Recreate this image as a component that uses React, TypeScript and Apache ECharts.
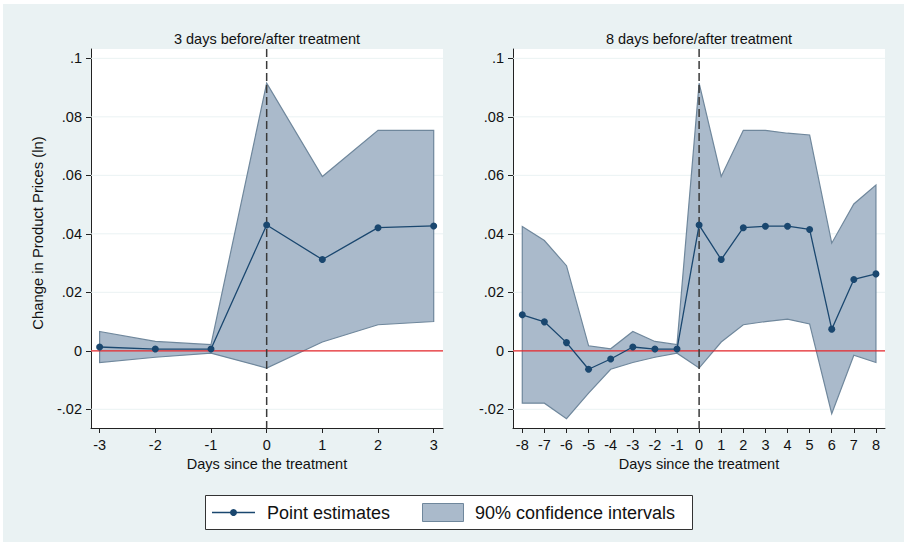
import React, { useEffect, useRef } from "react";
import * as echarts from "echarts";

// Event-study estimates: 3-day window
const days3 = [-3, -2, -1, 0, 1, 2, 3];
const est3 = [0.0013, 0.0006, 0.0006, 0.043, 0.0312, 0.0421, 0.0427];
const hi3 = [0.0066, 0.0032, 0.0021, 0.0915, 0.0596, 0.0754, 0.0754];
const lo3 = [-0.004, -0.0022, -0.0008, -0.0059, 0.003, 0.0089, 0.01];

// Event-study estimates: 8-day window
const days8 = [-8, -7, -6, -5, -4, -3, -2, -1, 0, 1, 2, 3, 4, 5, 6, 7, 8];
const est8 = [
  0.0123, 0.0099, 0.0028, -0.0063, -0.0028, 0.0013, 0.0006, 0.0006, 0.043,
  0.0312, 0.0421, 0.0426, 0.0426, 0.0415, 0.0074, 0.0244, 0.0263,
];
const hi8 = [
  0.0425, 0.0377, 0.0291, 0.0017, 0.0007, 0.0066, 0.0032, 0.0021, 0.0915,
  0.0596, 0.0754, 0.0754, 0.0744, 0.0738, 0.0368, 0.0502, 0.0567,
];
const lo8 = [
  -0.0179, -0.0179, -0.0232, -0.0145, -0.0063, -0.004, -0.0022, -0.0008,
  -0.0059, 0.003, 0.0089, 0.01, 0.0108, 0.0092, -0.0215, -0.0015, -0.004,
];

const yTicks = [-0.02, 0, 0.02, 0.04, 0.06, 0.08, 0.1];
const titles = ["3 days before/after treatment", "8 days before/after treatment"];
const xTitle = "Days since the treatment";
const yTitle = "Change in Product Prices (ln)";
const legendLabels = ["Point estimates", "90% confidence intervals"];

const FONT = '"Liberation Sans", Arial, Helvetica, sans-serif';
const NAVY = "#1a476f";
const BAND_FILL = "#aabacb";
const BAND_EDGE = "#6f879c";
const BG = "#eaf2f3";
const AXIS = "#222";
const TEXT = "#111";
const ZERO_RED = "#e8262b";
const EVENT_LINE = "#3a3a3a";

const fmtY = (v: number) => {
  const r = Number(v.toFixed(2));
  if (r === 0) return "0";
  return String(r).replace("0.", ".");
};

function xAxisFor(idx: number, xs: number[], min: number, max: number) {
  return {
    type: "value",
    gridIndex: idx,
    min,
    max,
    name: xTitle,
    nameLocation: "middle",
    nameGap: 27,
    nameTextStyle: { fontFamily: FONT, fontSize: 14.5, color: TEXT },
    axisLine: { show: true, onZero: false, lineStyle: { color: AXIS, width: 1 } },
    axisTick: { show: true, length: 5, customValues: xs, lineStyle: { color: AXIS, width: 1 } },
    axisLabel: { customValues: xs, fontFamily: FONT, fontSize: 14.5, color: TEXT, margin: 9 },
    splitLine: { show: false },
  };
}

function yAxisFor(idx: number) {
  return {
    type: "value",
    gridIndex: idx,
    min: -0.0264,
    max: 0.1032,
    axisLine: { show: true, onZero: false, lineStyle: { color: AXIS, width: 1 } },
    axisTick: { show: true, length: 5, customValues: yTicks, lineStyle: { color: AXIS, width: 1 } },
    axisLabel: {
      customValues: yTicks,
      formatter: (v: number) => fmtY(v),
      fontFamily: FONT,
      fontSize: 14.5,
      color: TEXT,
      margin: 9,
    },
    splitLine: { show: false },
  };
}

function panelSeries(idx: number, xs: number[], est: number[], lo: number[], hi: number[]) {
  return [
    // grid lines, confidence band, zero line and treatment-day line
    {
      type: "custom",
      name: legendLabels[1],
      xAxisIndex: idx,
      yAxisIndex: idx,
      z: 2,
      silent: true,
      data: xs.map((x, i) => [x, lo[i], hi[i]]),
      encode: { x: 0, y: [1, 2] },
      renderItem: (params: any, api: any) => {
        if (params.dataIndex !== 0) return null;
        const cs = params.coordSys;
        const left = cs.x;
        const right = cs.x + cs.width;
        const top = cs.y;
        const bottom = cs.y + cs.height;

        const grid = yTicks.map((v) => {
          const y = api.coord([0, v])[1];
          return {
            type: "line",
            shape: { x1: left, y1: y, x2: right, y2: y },
            style: { stroke: BG, lineWidth: 1 },
          };
        });

        const upper = xs.map((x, i) => api.coord([x, hi[i]]));
        const lower = xs.map((x, i) => api.coord([x, lo[i]])).reverse();
        const band = {
          type: "polygon",
          shape: { points: upper.concat(lower) },
          style: { fill: BAND_FILL, stroke: BAND_EDGE, lineWidth: 1.2 },
        };

        const y0 = api.coord([0, 0])[1];
        const zeroLine = {
          type: "line",
          shape: { x1: left, y1: y0, x2: right, y2: y0 },
          style: { stroke: ZERO_RED, lineWidth: 1.2 },
        };

        const x0 = api.coord([0, 0])[0];
        const eventLine = {
          type: "line",
          shape: { x1: x0, y1: top, x2: x0, y2: bottom + 3 },
          style: { stroke: EVENT_LINE, lineWidth: 1.5, lineDash: [8, 4] },
        };

        return { type: "group", children: [...grid, band, zeroLine, eventLine] };
      },
    },
    {
      type: "line",
      name: legendLabels[0],
      xAxisIndex: idx,
      yAxisIndex: idx,
      z: 4,
      silent: true,
      data: xs.map((x, i) => [x, est[i]]),
      symbol: "circle",
      symbolSize: 7,
      showSymbol: true,
      lineStyle: { color: NAVY, width: 1.3 },
      itemStyle: { color: NAVY },
    },
  ];
}

export default function App() {
  const ref = useRef<HTMLDivElement>(null);

  useEffect(() => {
    if (!ref.current) return;
    const chart = echarts.init(ref.current, undefined, { renderer: "svg" });

    const grids = [
      { left: 91, top: 49, width: 352, height: 379 },
      { left: 513, top: 49, width: 372, height: 379 },
    ];

    chart.setOption({
      animation: false,
      backgroundColor: "#ffffff",
      textStyle: { fontFamily: FONT },
      grid: grids.map((g) => ({ ...g, show: true, backgroundColor: "#ffffff", borderWidth: 0 })),
      xAxis: [xAxisFor(0, days3, -3.155, 3.167), xAxisFor(1, days8, -8.42, 8.41)],
      yAxis: [yAxisFor(0), yAxisFor(1)],
      series: [
        ...panelSeries(0, days3, est3, lo3, hi3),
        ...panelSeries(1, days8, est8, lo8, hi8),
      ],
      graphic: [
        {
          type: "rect",
          z: -10,
          silent: true,
          shape: { x: 3, y: 4, width: 901, height: 538 },
          style: { fill: BG },
        },
        {
          type: "text",
          x: grids[0].left + grids[0].width / 2,
          y: 39,
          style: { text: titles[0], fontFamily: FONT, fontSize: 14.5, fill: TEXT, align: "center", verticalAlign: "middle" },
        },
        {
          type: "text",
          x: grids[1].left + grids[1].width / 2,
          y: 39,
          style: { text: titles[1], fontFamily: FONT, fontSize: 14.5, fill: TEXT, align: "center", verticalAlign: "middle" },
        },
        {
          type: "text",
          x: 38,
          y: 233,
          rotation: Math.PI / 2,
          style: { text: yTitle, fontFamily: FONT, fontSize: 14.8, fill: TEXT, align: "center", verticalAlign: "middle" },
        },
        // legend box
        {
          type: "rect",
          shape: { x: 205.5, y: 495.5, width: 487, height: 34 },
          style: { fill: "#ffffff", stroke: "#333", lineWidth: 1 },
        },
        {
          type: "line",
          shape: { x1: 212, y1: 512.5, x2: 255, y2: 512.5 },
          style: { stroke: NAVY, lineWidth: 1.3 },
        },
        {
          type: "circle",
          shape: { cx: 233.5, cy: 512.5, r: 3.5 },
          style: { fill: NAVY },
        },
        {
          type: "text",
          x: 267,
          y: 513,
          style: { text: legendLabels[0], fontFamily: FONT, fontSize: 18, fill: TEXT, align: "left", verticalAlign: "middle" },
        },
        {
          type: "rect",
          shape: { x: 422.5, y: 503.5, width: 41, height: 18 },
          style: { fill: BAND_FILL, stroke: BAND_EDGE, lineWidth: 1 },
        },
        {
          type: "text",
          x: 475,
          y: 513,
          style: { text: legendLabels[1], fontFamily: FONT, fontSize: 18, fill: TEXT, align: "left", verticalAlign: "middle" },
        },
      ],
    });

    return () => chart.dispose();
  }, []);

  return (
    <div style={{ position: "fixed", left: 0, top: 0, width: 904, height: 542 }}>
      <div ref={ref} style={{ width: 904, height: 542 }} />
    </div>
  );
}
